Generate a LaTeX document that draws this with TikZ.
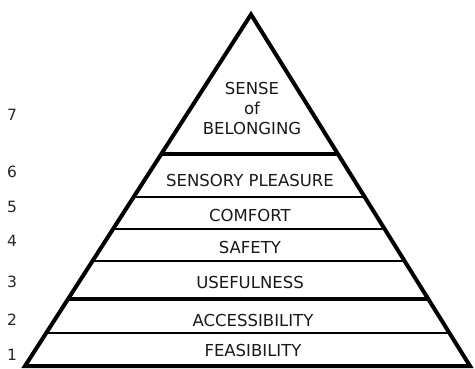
\documentclass[tikz,border=0pt]{standalone}
\usepackage{fontspec}
\setmainfont{DejaVu Sans}
\usetikzlibrary{calc}

\begin{document}
\begin{tikzpicture}[
    x=1pt, y=1pt,
    tier/.style={font=\fontsize{16.5}{20}\selectfont, align=center, text=black!90},
    rank/.style={font=\fontsize{15.5}{18}\selectfont, text=black!85},
    heavy/.style={line width=3.5pt},
    light/.style={line width=2pt}
]
    \useasboundingbox (0,0) rectangle (475,368);

    % Corners of the pyramid
    \coordinate (bl) at (25,2);
    \coordinate (br) at (470,2);
    \coordinate (top) at (251,353.5);

    % Dividing lines between the tiers
    \foreach \t/\w in {0.094/light, 0.191/heavy, 0.299/light, 0.390/light, 0.481/light, 0.603/heavy}
        \draw[\w] ($(bl)!\t!(top)$) -- ($(br)!\t!(top)$);

    % Outline
    \draw[line width=4pt] (bl) -- (top) -- (br) -- cycle;

    % Tiers
    \node[tier] (feas)    at (253,18)  {FEASIBILITY};
    \node[tier] (access)  at (253,48)  {ACCESSIBILITY};
    \node[tier] (useful)  at (250,86)  {USEFULNESS};
    \node[tier] (safety)  at (250,121) {SAFETY};
    \node[tier] (comfort) at (250,153) {COMFORT};
    \node[tier] (sensory) at (250,188) {SENSORY PLEASURE};
    \node[tier] (belong)  at (252,260) {SENSE\\of\\BELONGING};

    % Level numbers
    \foreach \n/\y in {1/13, 2/48, 3/86, 4/127, 5/161, 6/196, 7/253}
        \node[rank] (n\n) at (12,\y) {\n};

\end{tikzpicture}
\end{document}
